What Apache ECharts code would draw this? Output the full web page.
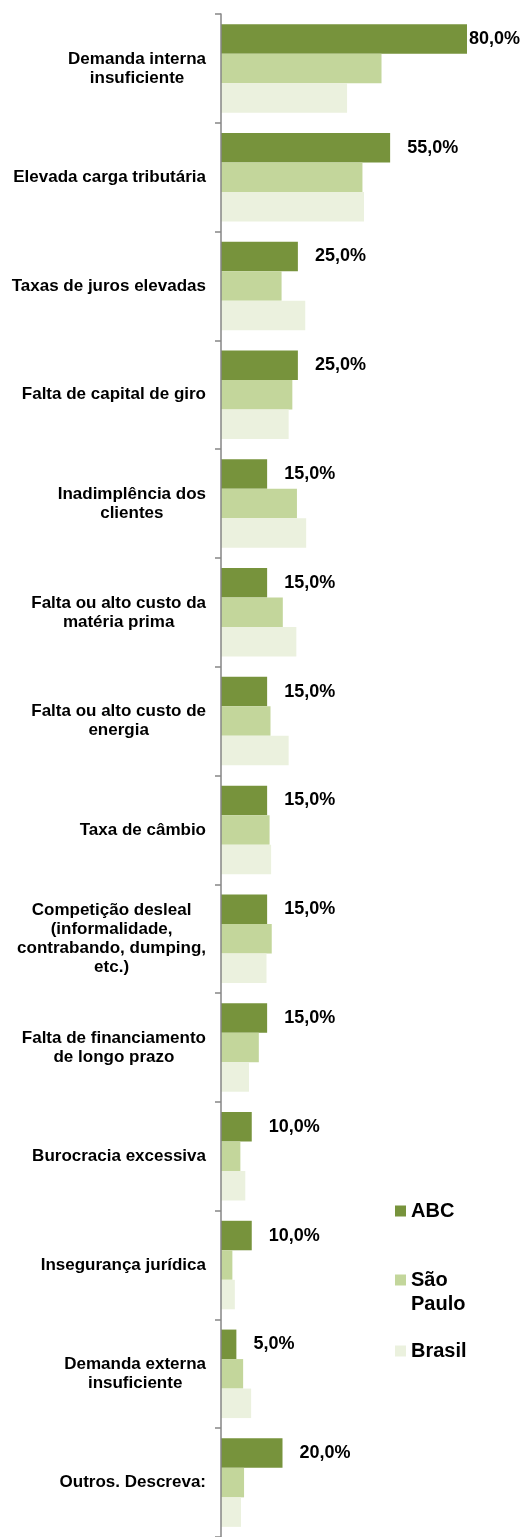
<!DOCTYPE html>
<html>
<head>
	<meta charset="utf-8" />
	<title>Principais dificuldades</title>
	<script src="https://cdn.jsdelivr.net/npm/echarts@6/dist/echarts.min.js"></script>
	<style>
		body { margin: 0; background: #fff; }
	</style>
</head>
<body>
	<div id="main" style="width: 526px;height: 1537px;"></div>
	<script type="text/javascript">

		// categorias (de cima para baixo)
		var categorias = [
			'Demanda interna\ninsuficiente',
			'Elevada carga tributária',
			'Taxas de juros elevadas',
			'Falta de capital de giro',
			'Inadimplência dos\nclientes',
			'Falta ou alto custo da\nmatéria prima',
			'Falta ou alto custo de\nenergia',
			'Taxa de câmbio',
			'Competição desleal\n(informalidade,\ncontrabando, dumping,\netc.)',
			'Falta de financiamento\nde longo prazo',
			'Burocracia excessiva',
			'Insegurança jurídica',
			'Demanda externa\ninsuficiente',
			'Outros. Descreva:'
		];

		var abc      = [80, 55, 25, 25, 15, 15, 15, 15, 15, 15, 10, 10, 5, 20];
		var saoPaulo = [52.2, 46.0, 19.7, 23.2, 24.7, 20.1, 16.1, 15.8, 16.5, 12.3, 6.3, 3.7, 7.2, 7.5];
		var brasil   = [41.0, 46.5, 27.4, 22.0, 27.7, 24.5, 22.0, 16.3, 14.8, 9.1, 7.9, 4.5, 9.8, 6.5];

		var fonte = 'Liberation Sans, Arial, sans-serif';

		var myChart = echarts.init(document.getElementById('main'));

		// o maior valor fica com o rotulo colado na barra
		var maxAbc = Math.max.apply(null, abc);
		var abcData = abc.map(function(v) {
			if (v === maxAbc) {
				return { value: v, label: { distance: 2 } };
			}
			return v;
		});

		function legenda(nome, texto, top) {
			return {
				data: [nome],
				orient: 'vertical',
				left: 395,
				top: top,
				padding: 0,
				itemWidth: 11,
				itemHeight: 11,
				icon: 'rect',
				formatter: function() { return texto; },
				textStyle: {
					fontFamily: fonte,
					fontWeight: 'bold',
					fontSize: 20,
					lineHeight: 24,
					color: '#000'
				}
			};
		}

		var option = {
			animation: false,
			color: ['#77933C', '#C3D69B', '#EBF1DE'],
			legend: [
				legenda('ABC', 'ABC', 1199),
				// linha vazia antes para o quadrado ficar na altura de "São"
				legenda('São Paulo', '\nSão\nPaulo', 1244),
				legenda('Brasil', 'Brasil', 1339)
			],
			grid: {
				left: 221,
				top: 14,
				width: 246,
				height: 1528
			},
			xAxis: {
				type: 'value',
				min: 0,
				max: 80,
				show: false
			},
			yAxis: {
				type: 'category',
				inverse: true,
				z: 5,
				data: categorias,
				axisLine: { show: true, lineStyle: { color: '#868686', width: 1.5 } },
				axisTick: { show: true, length: 6, lineStyle: { color: '#868686', width: 1.5 } },
				axisLabel: {
					margin: 15,
					align: 'right',
					formatter: function(v) {
						return v.split('\n').map(function(s) { return '{c|' + s + '}'; }).join('\n');
					},
					rich: {
						c: {
							align: 'center',
							fontFamily: fonte,
							fontWeight: 'bold',
							fontSize: 17,
							lineHeight: 19,
							color: '#000'
						}
					}
				}
			},
			series: [
				{
					name: 'ABC',
					type: 'bar',
					barWidth: 29.5,
					barGap: '0%',
					data: abcData,
					label: {
						show: true,
						position: 'right',
						distance: 17,
						fontFamily: fonte,
						fontWeight: 'bold',
						fontSize: 18,
						color: '#000',
						formatter: function(p) {
							return p.value.toFixed(1).replace('.', ',') + '%';
						}
					}
				},
				{
					name: 'São Paulo',
					type: 'bar',
					barWidth: 29.5,
					barGap: '0%',
					data: saoPaulo
				},
				{
					name: 'Brasil',
					type: 'bar',
					barWidth: 29.5,
					barGap: '0%',
					data: brasil
				}
			]
		};

		myChart.setOption(option);

	</script>
</body>
</html>
